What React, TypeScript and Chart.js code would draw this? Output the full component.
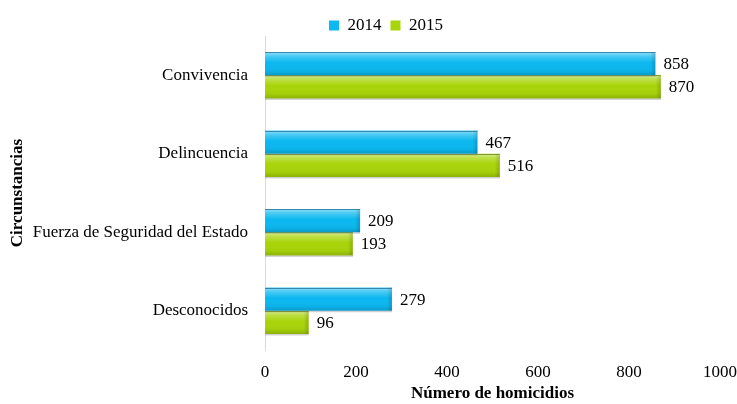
import React, { useEffect, useRef } from "react";
import { Chart, registerables } from "chart.js";

Chart.register(...registerables);

const categories = ["Convivencia", "Delincuencia", "Fuerza de Seguridad del Estado", "Desconocidos"];
const series2014 = [858, 467, 209, 279];
const series2015 = [870, 516, 193, 96];
const seriesLabels = ["2014", "2015"];
const xTicks = [0, 200, 400, 600, 800, 1000];

const FONT = "'Liberation Serif', 'Times New Roman', serif";
const FS = 17;

const barShade = {
  id: "barShade",
  afterDatasetDraw(chart: any, args: any) {
    const ctx = chart.ctx;
    const meta = args.meta;
    const edge = args.index === 0 ? "rgba(40,120,160,0.85)" : "rgba(110,140,20,0.85)";
    meta.data.forEach((el: any) => {
      const { x, y, base, height } = el.getProps(["x", "y", "base", "height"], true);
      const top = y - height / 2;
      const left = Math.min(x, base);
      const w = Math.abs(x - base);
      ctx.save();
      const g = ctx.createLinearGradient(0, top, 0, top + height);
      g.addColorStop(0, "rgba(255,255,255,0.55)");
      g.addColorStop(0.18, "rgba(255,255,255,0.25)");
      g.addColorStop(0.45, "rgba(255,255,255,0)");
      g.addColorStop(0.8, "rgba(0,0,0,0.03)");
      g.addColorStop(1, "rgba(0,0,0,0.16)");
      ctx.fillStyle = g;
      ctx.fillRect(left, top, w, height);
      const g2 = ctx.createLinearGradient(left + w - 5, 0, left + w, 0);
      g2.addColorStop(0, "rgba(0,0,0,0)");
      g2.addColorStop(1, "rgba(0,0,0,0.16)");
      ctx.fillStyle = g2;
      ctx.fillRect(left + w - 5, top, 5, height);
      ctx.strokeStyle = edge;
      ctx.lineWidth = 1;
      ctx.beginPath();
      ctx.moveTo(left, Math.round(top) + 0.5);
      ctx.lineTo(left + w, Math.round(top) + 0.5);
      ctx.stroke();
      ctx.fillStyle = "rgba(120,120,120,0.35)";
      ctx.fillRect(left, top + height, w, 1.5);
      ctx.restore();
    });
  },
};

const valueLabels = {
  id: "valueLabels",
  afterDatasetsDraw(chart: any) {
    const ctx = chart.ctx;
    ctx.save();
    ctx.font = `${FS}px ${FONT}`;
    ctx.fillStyle = "#000";
    ctx.textBaseline = "middle";
    ctx.textAlign = "left";
    chart.data.datasets.forEach((ds: any, di: number) => {
      const meta = chart.getDatasetMeta(di);
      meta.data.forEach((el: any, i: number) => {
        const { x, y } = el.getProps(["x", "y"], true);
        ctx.fillText(String(ds.data[i]), x + 8, y + 1);
      });
    });
    ctx.restore();
  },
};

const legendShift = {
  id: "legendShift",
  afterLayout(chart: any) {
    const lg = chart.legend;
    if (!lg) return;
    const dx = 26;
    const dy = 8;
    lg.left += dx;
    lg.right += dx;
    lg.top += dy;
    lg.bottom += dy;
  },
};

export default function App() {
  const ref = useRef<HTMLCanvasElement>(null);
  useEffect(() => {
    document.body.style.margin = "0";
    const canvas = ref.current;
    if (!canvas) return;
    const chart = new Chart(canvas, {
      type: "bar",
      data: {
        labels: categories,
        datasets: [
          {
            label: seriesLabels[0],
            data: series2014,
            backgroundColor: "#0cb8f0",
            categoryPercentage: 0.59,
            barPercentage: 1,
          },
          {
            label: seriesLabels[1],
            data: series2015,
            backgroundColor: "#a8d40a",
            categoryPercentage: 0.59,
            barPercentage: 1,
          },
        ],
      },
      options: {
        indexAxis: "y",
        responsive: false,
        animation: false,
        layout: { padding: { left: 0, right: 17, top: 0, bottom: 0 } },
        plugins: {
          tooltip: { enabled: false },
          legend: {
            position: "top",
            labels: {
              boxWidth: 10,
              boxHeight: 10,
              padding: 9,
              color: "#000",
              font: { family: FONT, size: FS },
            },
          },
        },
        scales: {
          x: {
            min: 0,
            max: 1000,
            afterBuildTicks(scale: any) {
              scale.ticks = xTicks.map((v) => ({ value: v }));
            },
            afterFit(scale: any) {
              scale.height = 54;
              scale.paddingRight = 0;
              scale.paddingLeft = 0;
            },
            grid: { display: false },
            border: { display: false },
            ticks: {
              color: "#000",
              padding: 4,
              font: { family: FONT, size: FS },
              callback: (v: any) => String(v),
            },
            title: {
              display: true,
              text: "Número de homicidios",
              color: "#000",
              padding: 0,
              font: { family: FONT, size: FS, weight: "bold" },
            },
          },
          y: {
            afterFit(scale: any) {
              scale.width = 265;
            },
            grid: { display: false },
            border: { display: true, color: "#d9d9d9", width: 1 },
            ticks: {
              color: "#000",
              padding: 9,
              font: { family: FONT, size: FS },
            },
            title: {
              display: true,
              text: "Circunstancias",
              color: "#000",
              padding: { top: 7, bottom: 0 },
              font: { family: FONT, size: FS, weight: "bold" },
            },
          },
        },
      },
      plugins: [barShade, valueLabels, legendShift],
    } as any);
    return () => chart.destroy();
  }, []);
  return (
    <div style={{ width: 737, height: 404 }}>
      <canvas ref={ref} width={737} height={404} />
    </div>
  );
}
